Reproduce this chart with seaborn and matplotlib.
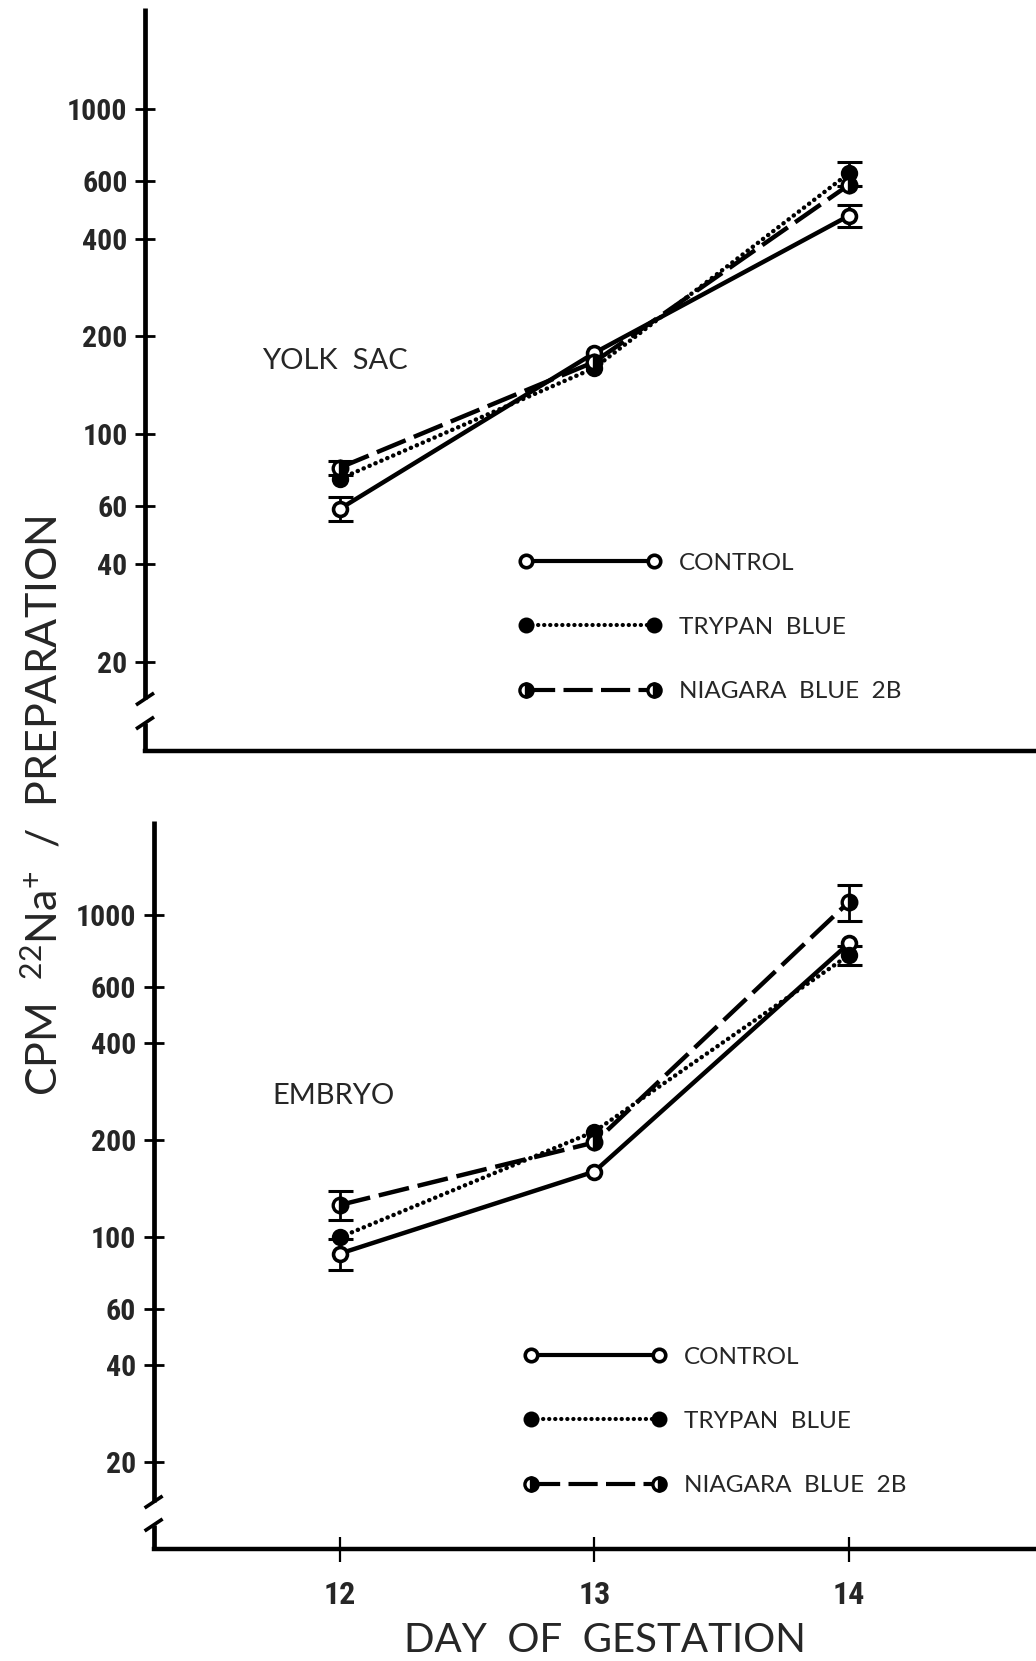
import numpy as np
import pandas as pd
import matplotlib
matplotlib.use("Agg")
import matplotlib.pyplot as plt
from matplotlib.lines import Line2D
import seaborn as sns

# ---- data: CPM 22Na+ per preparation, by day of gestation ----
days = [12, 13, 14]

yolk_control = [59, 178, 470]
yolk_trypan = [73, 160, 635]
yolk_niagara = [79, 167, 585]
yolk_control_se = [5, np.nan, 36]
yolk_trypan_se = [np.nan, np.nan, 54]
yolk_niagara_se = [4, np.nan, np.nan]

embryo_control = [89, 160, 818]
embryo_trypan = [100, 213, 752]
embryo_niagara = [126, 197, 1100]
embryo_control_se = [10, np.nan, np.nan]
embryo_trypan_se = [np.nan, np.nan, 50]
embryo_niagara_se = [13, np.nan, 140]

treatments = ["CONTROL", "TRYPAN  BLUE", "NIAGARA  BLUE  2B"]
y_ticks = [20, 40, 60, 100, 200, 400, 600, 1000]
x_ticks = [12, 13, 14]

sns.set_style("white")
plt.rcParams["font.family"] = ["Lato", "DejaVu Sans"]
plt.rcParams["mathtext.default"] = "regular"

TICK_FONT = ["Liberation Sans Narrow", "Roboto Condensed", "Roboto", "DejaVu Sans"]

W, H = 1036, 1661
fig = plt.figure(figsize=(W / 100, H / 100), dpi=100)
fig.patch.set_facecolor("white")

line_styles = {
    "CONTROL": dict(linestyle="-", dash_capstyle="butt"),
    "TRYPAN  BLUE": dict(linestyle=(0, (0.05, 1.4)), dash_capstyle="round"),
    "NIAGARA  BLUE  2B": dict(linestyle=(0, (7, 2)), dash_capstyle="butt"),
}
marker_styles = {
    "CONTROL": dict(marker="o", markersize=10, markerfacecolor="white",
                    markeredgecolor="black", markeredgewidth=2.6),
    "TRYPAN  BLUE": dict(marker="o", markersize=11, markerfacecolor="black",
                         markeredgecolor="black", markeredgewidth=1.5),
    "NIAGARA  BLUE  2B": dict(marker="o", markersize=10.5, fillstyle="right",
                              markerfacecolor="black", markerfacecoloralt="white",
                              markeredgecolor="black", markeredgewidth=2.4),
}


def make_axes(left_px, top_px, bottom_px):
    return fig.add_axes([left_px / W, 1 - bottom_px / H,
                         (W - left_px) / W, (bottom_px - top_px) / H])


def style_axes(ax, ylim, xlim, show_xticks):
    ax.set_yscale("log")
    ax.set_ylim(*ylim)
    ax.set_xlim(*xlim)
    ax.set_facecolor("white")
    for s in ["top", "right", "left"]:
        ax.spines[s].set_visible(False)
    ax.spines["bottom"].set_linewidth(3.2)
    ax.spines["bottom"].set_color("black")
    ax.yaxis.set_major_locator(matplotlib.ticker.FixedLocator(y_ticks))
    ax.yaxis.set_minor_locator(matplotlib.ticker.NullLocator())
    ax.set_yticklabels([str(t) for t in y_ticks])
    ax.tick_params(axis="y", which="major", direction="inout", length=15,
                   width=2, color="black", pad=5, left=True, labelsize=21.5)
    for lab in ax.get_yticklabels():
        lab.set_fontfamily(TICK_FONT)
        lab.set_fontweight("bold")
    if show_xticks:
        ax.set_xticks(x_ticks)
        ax.set_xticklabels([str(t) for t in x_ticks])
        ax.tick_params(axis="x", direction="inout", length=18, width=1.6,
                       color="black", pad=13, bottom=True, labelsize=23)
        for lab in ax.get_xticklabels():
            lab.set_fontfamily(TICK_FONT)
            lab.set_fontweight("bold")
    else:
        ax.set_xticks([])
    ax.set_xlabel("")
    ax.set_ylabel("")
    ax.grid(False)


def draw_broken_spine(ax, gap_top, gap_bottom):
    """Left spine with a break: long upper part and a short stub at the base."""
    bb = ax.get_position()
    ax_w = bb.width * W
    ax_h = bb.height * H
    dx, dy = 9 / ax_w, 6 / ax_h
    kw = dict(transform=ax.transAxes, color="black", clip_on=False,
              solid_capstyle="butt")
    ax.plot([0, 0], [gap_top, 1.0], lw=3.4, **kw)
    ax.plot([0, 0], [0.0, gap_bottom], lw=3.4, **kw)
    ax.plot([-dx, dx], [gap_top - dy, gap_top + dy], lw=2.6, **kw)
    ax.plot([-dx, dx], [gap_bottom - dy, gap_bottom + dy], lw=2.6, **kw)


def draw_panel(ax, series, errors):
    for name in treatments:
        vals = series[name]
        sns.lineplot(x=days, y=vals, ax=ax, color="black", lw=3.2,
                     legend=False, **line_styles[name])
    for name in treatments:
        vals = np.array(series[name], dtype=float)
        se = np.array(errors[name], dtype=float)
        ok = np.isfinite(se)
        if ok.any():
            ax.errorbar(np.array(days)[ok], vals[ok], yerr=se[ok], fmt="none",
                        ecolor="black", elinewidth=2, capsize=9, capthick=2.2,
                        zorder=4)
        ax.plot(days, vals, linestyle="none", zorder=5, **marker_styles[name])


def add_key(ax, anchor):
    handles = []
    for name in treatments:
        ms = dict(marker_styles[name])
        ms["markersize"] = ms["markersize"] - 1
        handles.append(Line2D([], [], color="black", lw=3.0,
                              **line_styles[name], **ms))
    leg = ax.legend(handles, treatments, loc="upper left",
                    bbox_to_anchor=anchor, bbox_transform=ax.transAxes,
                    numpoints=2, frameon=False, handlelength=5.9,
                    handletextpad=0.7, labelspacing=1.78, borderpad=0,
                    borderaxespad=0, prop=dict(family=["Lato", "DejaVu Sans"],
                                                size=17.5))
    return leg


# ---- upper panel: yolk sac ----
ax1 = make_axes(145, 8, 751)
draw_panel(ax1,
           {"CONTROL": yolk_control, "TRYPAN  BLUE": yolk_trypan,
            "NIAGARA  BLUE  2B": yolk_niagara},
           {"CONTROL": yolk_control_se, "TRYPAN  BLUE": yolk_trypan_se,
            "NIAGARA  BLUE  2B": yolk_niagara_se})
style_axes(ax1, (10.62, 2046), (11.234, 14.735), show_xticks=False)
draw_broken_spine(ax1, 0.070, 0.0377)
ax1.text(0.131, 0.525, "YOLK  SAC", transform=ax1.transAxes, fontsize=21,
         ha="left", va="center")
add_key(ax1, (0.419, 0.267))

# ---- lower panel: embryo ----
ax2 = make_axes(153.6, 821, 1549)
draw_panel(ax2,
           {"CONTROL": embryo_control, "TRYPAN  BLUE": embryo_trypan,
            "NIAGARA  BLUE  2B": embryo_niagara},
           {"CONTROL": embryo_control_se, "TRYPAN  BLUE": embryo_trypan_se,
            "NIAGARA  BLUE  2B": embryo_niagara_se})
style_axes(ax2, (10.77, 1961), (11.268, 14.735), show_xticks=True)
draw_broken_spine(ax2, 0.0646, 0.033)
ax2.text(0.135, 0.622, "EMBRYO", transform=ax2.transAxes, fontsize=21,
         ha="left", va="center")
add_key(ax2, (0.419, 0.278))

# ---- shared axis titles ----
fig.text(42 / W, 1 - 806 / H, r"CPM  $^{22}$Na$^{+}$  /  PREPARATION",
         rotation=90, ha="center", va="center", fontsize=31)
fig.text(605 / W, 1 - 1640 / H, "DAY  OF  GESTATION", ha="center",
         va="center", fontsize=29)

fig.savefig("out.png", dpi=100, facecolor="white")
